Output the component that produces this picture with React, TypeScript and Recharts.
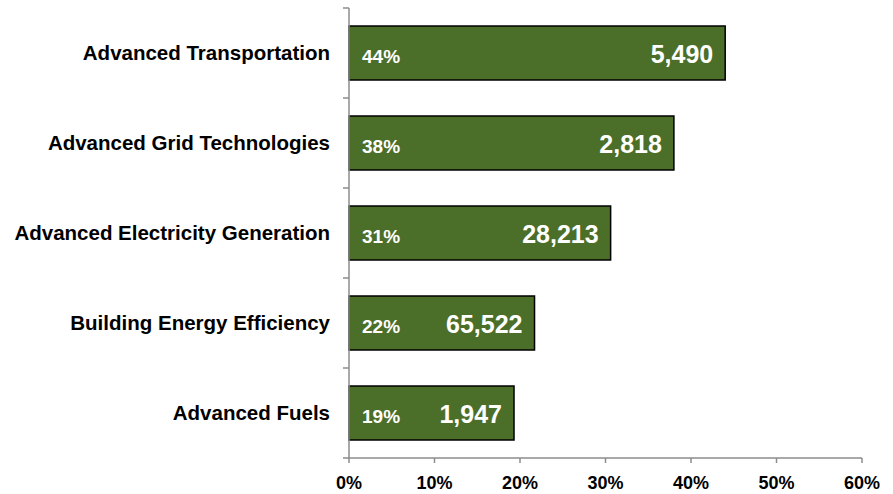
import { Bar, BarChart, LabelList, XAxis, YAxis } from "recharts";

const categories = [
  "Advanced Transportation",
  "Advanced Grid Technologies",
  "Advanced Electricity Generation",
  "Building Energy Efficiency",
  "Advanced Fuels",
];
const shares = [44, 38, 30.6, 21.7, 19.3];
const shareLabels = ["44%", "38%", "31%", "22%", "19%"];
const counts = ["5,490", "2,818", "28,213", "65,522", "1,947"];
const xTicks = [0, 10, 20, 30, 40, 50, 60];

const data = categories.map((name, i) => ({
  name,
  share: shares[i],
  shareLabel: shareLabels[i],
  count: counts[i],
}));

const font = "'Liberation Sans', Arial, sans-serif";
const green = "#4b6e29";
const axisColor = "#8c8c8c";

function CategoryTick(props: any) {
  const { x, y, payload, index } = props;
  const half = payload?.offset ?? 45;
  const axisX = x + 19;
  return (
    <g>
      <line x1={axisX - 6} x2={axisX} y1={y - half} y2={y - half} stroke={axisColor} strokeWidth={1.5} />
      {index === categories.length - 1 && (
        <line x1={axisX - 6} x2={axisX} y1={y + half} y2={y + half} stroke={axisColor} strokeWidth={1.5} />
      )}
      <text x={x} y={y} dy={7} textAnchor="end" fontFamily={font} fontWeight="bold" fontSize={20.5} fill="#000">
        {payload.value}
      </text>
    </g>
  );
}

export default function App() {
  return (
    <div style={{ position: "absolute", left: 0, top: 0, width: 893, height: 494, background: "#fff" }}>
      <BarChart
        width={893}
        height={494}
        data={data}
        layout="vertical"
        margin={{ top: 8, right: 31, bottom: 0, left: 0 }}
        barCategoryGap="20%"
      >
        <XAxis
          type="number"
          domain={[0, 60]}
          ticks={xTicks}
          tickFormatter={(v) => `${v}%`}
          height={36}
          stroke={axisColor}
          strokeWidth={1.5}
          tickSize={5}
          tickLine={{ stroke: axisColor, strokeWidth: 1.5 }}
          tick={{ fontFamily: font, fontWeight: "bold", fontSize: 18, fill: "#000" }}
          tickMargin={13}
          interval={0}
        />
        <YAxis
          type="category"
          dataKey="name"
          width={349}
          stroke={axisColor}
          strokeWidth={1.5}
          tickLine={false}
          tickSize={5}
          tickMargin={14}
          tick={<CategoryTick />}
          interval={0}
        />
        <Bar dataKey="share" fill={green} stroke="#000" strokeWidth={1.5} isAnimationActive={false}>
          <LabelList
            dataKey="shareLabel"
            position="insideLeft"
            offset={13}
            fill="#fff"
            dy={3}
            style={{ fontFamily: font, fontWeight: "bold", fontSize: 19 }}
          />
          <LabelList
            dataKey="count"
            position="insideRight"
            offset={12}
            fill="#fff"
            dy={1}
            style={{ fontFamily: font, fontWeight: "bold", fontSize: 25 }}
          />
        </Bar>
      </BarChart>
    </div>
  );
}
